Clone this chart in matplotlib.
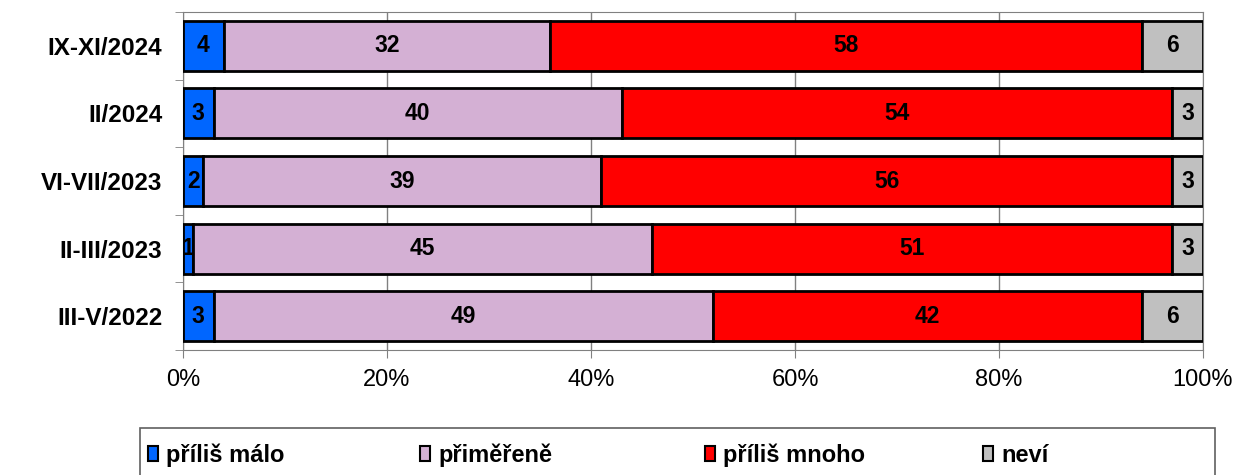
import numpy as np
import matplotlib.pyplot as plt
from matplotlib.patches import Rectangle

plt.rcParams['font.family'] = ['Liberation Sans', 'DejaVu Sans']

# data (bottom row first)
periods = ['III-V/2022', 'II-III/2023', 'VI-VII/2023', 'II/2024', 'IX-XI/2024']
too_little = [3, 1, 2, 3, 4]
adequate = [49, 45, 39, 40, 32]
too_much = [42, 51, 56, 54, 58]
dont_know = [6, 3, 3, 3, 6]
series_names = ['příliš málo', 'přiměřeně', 'příliš mnoho', 'neví']
colors = ['#0066ff', '#d4b0d4', '#ff0000', '#c0c0c0']

fig = plt.figure(figsize=(12.35, 4.75), dpi=100)
ax = fig.add_axes([183/1235, 1-350/475, 1020/1235, 338/475])

ind = np.arange(len(periods))
left = np.zeros(len(periods))
handles = []
for vals, name, col in zip([too_little, adequate, too_much, dont_know], series_names, colors):
    vals = np.array(vals, dtype=float)
    bars = ax.barh(ind, vals, height=0.74, left=left, color=col,
                   edgecolor='black', linewidth=2, label=name, zorder=3)
    handles.append(bars)
    for x0, v, y in zip(left, vals, ind):
        ax.text(x0 + v/2, y, '%d' % v, ha='center', va='center',
                fontsize=16.5, fontweight='bold', zorder=4)
    left += vals

ax.set_xlim(0, 100)
ax.set_ylim(-0.5, len(periods) - 0.5)
ax.set_xticks(np.arange(0, 101, 20))
ax.set_xticklabels(['%d%%' % t for t in range(0, 101, 20)], fontsize=17)
ax.set_yticks(ind)
ax.set_yticklabels(periods, fontsize=17.5, fontweight='bold')
ax.set_yticks(np.arange(-0.5, len(periods)), minor=True)
ax.tick_params(axis='y', which='major', length=0, pad=15)
ax.tick_params(axis='y', which='minor', length=6, color='#808080')
ax.tick_params(axis='x', length=6, color='#808080', pad=8)
ax.grid(axis='x', color='#808080', linewidth=1, zorder=0)
for s in ax.spines.values():
    s.set_color('#808080')

# legend box
fig.patches.append(Rectangle((140/1235, -0.05), 1075/1235, 0.05 + 47/475,
                             transform=fig.transFigure, fill=False,
                             edgecolor='#606060', linewidth=1.2))
leg_x = [148, 420, 705, 983]
for h, name, lx in zip(handles, series_names, leg_x):
    leg = fig.legend(handles=[h], labels=[name], loc='center left',
                     bbox_to_anchor=(lx/1235, 1-455/475), frameon=False,
                     handlelength=0.42, handleheight=0.6, handletextpad=0.35,
                     borderpad=0, borderaxespad=0,
                     prop={'size': 17, 'weight': 'bold'})
    for lh in leg.legend_handles:
        lh.set_linewidth(1.5)

fig.savefig('out.png', dpi=100)
